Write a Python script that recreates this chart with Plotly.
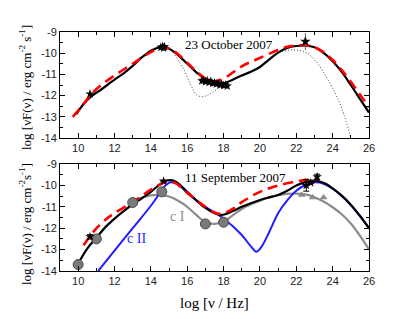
import plotly.graph_objects as go

# ---------------- data: top panel (23 October 2007) ----------------
top_black_x = [9.9, 10.3, 10.7, 11.2, 12.0, 12.5, 13.0, 13.5, 14.0, 14.5, 14.8, 15.3, 16.0, 16.5, 17.0, 17.5,
               18.0, 18.5, 19.0, 19.5, 20.0, 20.5, 21.0, 21.5, 22.0, 22.5, 23.0, 23.5, 24.0, 24.5, 25.0, 25.5, 26.0]
top_black_y = [-12.87, -12.4, -12.05, -11.75, -11.25, -10.95, -10.6, -10.2, -9.88, -9.72, -9.72, -9.95, -10.5,
               -10.9, -11.2, -11.38, -11.42, -11.25, -11.05, -10.88, -10.65, -10.3, -9.97, -9.75, -9.66, -9.64,
               -9.72, -9.98, -10.38, -10.88, -11.5, -12.15, -12.8]

top_dot_x = [9.9, 10.3, 10.7, 11.2, 12.0, 12.5, 13.0, 13.5, 14.0, 14.5, 14.8, 15.1, 15.4, 15.8, 16.2, 16.5, 16.8,
             17.2, 17.6, 18.0, 18.5, 19.0, 19.5, 20.0, 20.5, 21.0, 21.5, 22.0, 22.5, 23.0, 23.5, 24.0, 24.5, 25.0]
top_dot_y = [-12.87, -12.4, -12.05, -11.75, -11.25, -10.95, -10.6, -10.2, -9.88, -9.72, -9.74, -9.85, -10.2,
             -10.75, -11.5, -11.95, -12.05, -11.95, -11.72, -11.45, -11.25, -11.05, -10.88, -10.66, -10.32,
             -10.0, -9.87, -9.85, -9.95, -10.3, -10.9, -11.65, -12.6, -14.0]

top_red_x = [9.7, 10.2, 10.7, 11.2, 12.0, 13.0, 14.0, 14.6, 15.0, 15.5, 16.0, 16.5, 17.0, 17.5, 18.0, 19.0,
             19.8, 21.0, 21.5, 22.0, 22.5, 23.0, 23.5, 24.0, 24.5, 25.0, 25.5, 26.0]
top_red_y = [-13.0, -12.5, -11.95, -11.55, -11.05, -10.5, -9.95, -9.74, -9.78, -10.05, -10.45, -10.85, -11.2,
             -11.33, -11.2, -10.62, -10.3, -9.85, -9.7, -9.64, -9.62, -9.72, -9.95, -10.32, -10.8, -11.35,
             -11.95, -12.55]

top_star_x = [10.65, 14.55, 14.65, 14.75, 14.7, 16.8, 16.9, 17.0, 17.1, 17.2, 17.3, 17.4, 17.5, 17.6, 17.7,
              17.8, 17.9, 18.0, 18.1, 18.2]
top_star_y = [-11.92, -9.72, -9.68, -9.7, -9.76, -11.3, -11.28, -11.35, -11.3, -11.38, -11.33, -11.42, -11.4,
              -11.45, -11.42, -11.5, -11.47, -11.52, -11.5, -11.55]

top_errstar_x = [22.5]
top_errstar_y = [-9.45]
top_errstar_e = [0.4]

# ---------------- data: bottom panel (11 September 2007) ----------------
bot_black_x = [10.0, 10.5, 11.0, 11.5, 12.0, 12.5, 13.0, 13.5, 14.0, 14.5, 14.9, 15.3, 16.0, 16.5, 17.0, 17.5,
               17.9, 18.5, 19.0, 19.5, 20.0, 20.5, 21.0, 21.5, 22.0, 22.5, 23.0, 23.5, 24.0, 24.5, 25.0, 25.5, 26.0]
bot_black_y = [-13.65, -12.95, -12.45, -11.95, -11.55, -11.2, -10.88, -10.6, -10.3, -9.95, -9.77, -9.8, -10.3,
               -10.7, -11.05, -11.3, -11.38, -11.2, -11.0, -10.83, -10.68, -10.56, -10.45, -10.25, -10.0, -9.85,
               -9.78, -9.88, -10.14, -10.48, -10.9, -11.42, -12.0]

bot_red_x = [10.3, 10.8, 11.5, 12.0, 13.0, 14.0, 14.8, 15.3, 16.0, 17.0, 17.6, 18.0, 18.5, 19.0, 20.0, 21.0,
             22.0, 22.5, 23.2]
bot_red_y = [-12.8, -12.2, -11.6, -11.3, -10.78, -10.2, -9.85, -9.87, -10.35, -11.0, -11.3, -11.3, -11.1,
             -10.78, -10.3, -10.0, -9.82, -9.74, -9.7]

bot_blue_x = [11.1, 12.0, 13.0, 14.0, 14.5, 14.8, 15.1, 15.5, 16.0, 17.0, 18.0, 19.0, 19.5, 19.8, 20.1, 20.5,
              21.0, 21.5, 22.0, 22.5, 23.0, 23.5, 24.0, 24.5, 25.0, 25.5, 26.0]
bot_blue_y = [-14.0, -13.05, -12.0, -10.95, -10.35, -10.0, -9.85, -9.95, -10.35, -11.0, -11.55, -12.32, -12.85,
              -13.1, -12.85, -12.2, -11.3, -10.7, -10.25, -9.98, -9.86, -9.92, -10.15, -10.5, -10.92, -11.43,
              -12.0]

bot_gray_x = [13.0, 13.5, 14.0, 14.5, 15.0, 15.5, 16.0, 16.5, 17.0, 17.5, 18.0, 18.5, 19.0, 19.5, 20.0, 20.5,
              21.0, 21.5, 22.0, 22.5, 23.0, 23.5, 24.0, 24.5, 25.0, 25.5, 26.0]
bot_gray_y = [-10.75, -10.58, -10.47, -10.45, -10.52, -10.72, -11.0, -11.38, -11.72, -11.8, -11.7, -11.4, -11.1,
              -10.88, -10.72, -10.56, -10.46, -10.4, -10.38, -10.42, -10.55, -10.75, -11.02, -11.35, -11.78,
              -12.35, -13.0]

bot_circle_x = [10.0, 11.0, 13.0, 14.6, 17.0, 18.0]
bot_circle_y = [-13.7, -12.5, -10.8, -10.3, -11.8, -11.72]

bot_tri_x = [22.3, 22.9, 23.5]
bot_tri_y = [-10.45, -10.57, -10.57]

bot_star_x = [10.65, 14.7, 22.55, 22.8, 23.15]
bot_star_y = [-12.4, -9.8, -10.0, -9.88, -9.6]
bot_star_e = [0.1, 0.0, 0.27, 0.0, 0.12]

x_tickvals = [10, 12, 14, 16, 18, 20, 22, 24, 26]
x_ticklabels = ["10", "12", "14", "16", "18", "20", "22", "24", "26"]
y_tickvals = [-9, -10, -11, -12, -13, -14]
y_ticklabels = ["-9", "-10", "-11", "-12", "-13", "-14"]

title_top = "23 October 2007"
title_bot = "11 September 2007"
ytitle_top = "log [νF(ν) / erg cm<sup>-2</sup> s<sup>-1</sup>]"
ytitle_bot = "log [νF(ν) / erg cm<sup>-2</sup>s<sup>-1</sup>]"
xtitle = "log [ν / Hz]"

# ---------------- figure ----------------
fig = go.Figure()
SERIF = "Liberation Serif"
SANS = "Liberation Sans"


def line(x, y, color, width, dash="solid", ax=("x", "y")):
    fig.add_trace(go.Scatter(x=x, y=y, mode="lines", xaxis=ax[0], yaxis=ax[1],
                             line=dict(color=color, width=width, dash=dash, shape="spline", smoothing=1.0),
                             showlegend=False, hoverinfo="skip"))


# top panel
line(top_dot_x, top_dot_y, "#444444", 1, "1px,2px")
line(top_black_x, top_black_y, "black", 2.2)
line(top_red_x, top_red_y, "#ff0000", 2.6, "10px,6px")
fig.add_trace(go.Scatter(x=top_star_x, y=top_star_y, mode="markers", xaxis="x", yaxis="y",
                         marker=dict(symbol="star", size=7, color="black"), showlegend=False))
fig.add_trace(go.Scatter(x=top_errstar_x, y=top_errstar_y, mode="markers", xaxis="x", yaxis="y",
                         error_y=dict(type="data", array=top_errstar_e, color="#666666", thickness=1, width=0),
                         marker=dict(symbol="star", size=8, color="black"), showlegend=False))

# bottom panel
B = ("x2", "y2")
line(bot_gray_x, bot_gray_y, "#8c8c8c", 2.2, ax=B)
line(bot_blue_x, bot_blue_y, "#1f1fff", 2.0, ax=B)
line(bot_black_x, bot_black_y, "black", 2.2, ax=B)
line(bot_red_x, bot_red_y, "#ff0000", 2.6, "10px,6px", ax=B)
fig.add_trace(go.Scatter(x=bot_circle_x, y=bot_circle_y, mode="markers", xaxis="x2", yaxis="y2",
                         marker=dict(symbol="circle", size=10, color="#7a7a7a",
                                     line=dict(color="#4a4a4a", width=1)), showlegend=False))
fig.add_trace(go.Scatter(x=bot_tri_x, y=bot_tri_y, mode="markers", xaxis="x2", yaxis="y2",
                         marker=dict(symbol="triangle-up", size=7, color="#8c8c8c"), showlegend=False))
fig.add_trace(go.Scatter(x=bot_star_x, y=bot_star_y, mode="markers", xaxis="x2", yaxis="y2",
                         error_y=dict(type="data", array=bot_star_e, color="black", thickness=1, width=3),
                         marker=dict(symbol="star", size=7, color="black"), showlegend=False))

axis_common = dict(showline=True, linecolor="black", linewidth=1, mirror="allticks",
                   ticks="inside", ticklen=5, tickcolor="black", showgrid=False, zeroline=False,
                   tickfont=dict(family=SANS, size=11, color="#222222"))
xaxis_common = dict(axis_common, range=[9, 26], tickvals=x_tickvals, ticktext=x_ticklabels,
                    minor=dict(ticks="inside", ticklen=3, dtick=1, tick0=9, tickcolor="black", showgrid=False))
yaxis_common = dict(axis_common, range=[-14, -9], tickvals=y_tickvals, ticktext=y_ticklabels,
                    minor=dict(ticks="inside", ticklen=3, dtick=0.5, tick0=-14, tickcolor="black", showgrid=False))

top_dom = [0.5565, 1.0]
bot_dom = [0.0, 0.4477]

# the page body adds an 8px margin, so the figure is made 8px smaller and margins shifted
fig.update_layout(
    width=403, height=311,
    margin=dict(l=52, r=42, t=24, b=48),
    paper_bgcolor="white", plot_bgcolor="white",
    xaxis=dict(xaxis_common, domain=[0, 1], anchor="y"),
    yaxis=dict(yaxis_common, domain=top_dom, anchor="x"),
    xaxis2=dict(xaxis_common, domain=[0, 1], anchor="y2"),
    yaxis2=dict(yaxis_common, domain=bot_dom, anchor="x2"),
    showlegend=False,
    annotations=[
        dict(text=title_top, x=18.3, y=-9.61, xref="x", yref="y", showarrow=False,
             xanchor="center", yanchor="middle", font=dict(family=SERIF, size=13, color="black")),
        dict(text=title_bot, x=18.66, y=-9.61, xref="x2", yref="y2", showarrow=False,
             xanchor="center", yanchor="middle", font=dict(family=SERIF, size=13, color="black")),
        dict(text="c I", x=15.45, y=-11.46, xref="x2", yref="y2", showarrow=False,
             xanchor="center", yanchor="middle", font=dict(family=SERIF, size=14, color="#8c8c8c")),
        dict(text="c II", x=13.22, y=-12.47, xref="x2", yref="y2", showarrow=False,
             xanchor="center", yanchor="middle", font=dict(family=SERIF, size=14, color="#1f1fff")),
        dict(text=xtitle, x=0.5, y=-0.134, xref="paper", yref="paper", showarrow=False,
             xanchor="center", yanchor="middle", font=dict(family=SERIF, size=15, color="black")),
        dict(text=ytitle_top, x=-0.113, y=0.766, xref="paper", yref="paper", showarrow=False,
             xanchor="center", yanchor="middle",
             textangle=-90, font=dict(family=SERIF, size=13, color="black")),
        dict(text=ytitle_bot, x=-0.113, y=0.197, xref="paper", yref="paper", showarrow=False,
             xanchor="center", yanchor="middle",
             textangle=-90, font=dict(family=SERIF, size=13, color="black")),
    ],
)

fig.write_html("out.html")
